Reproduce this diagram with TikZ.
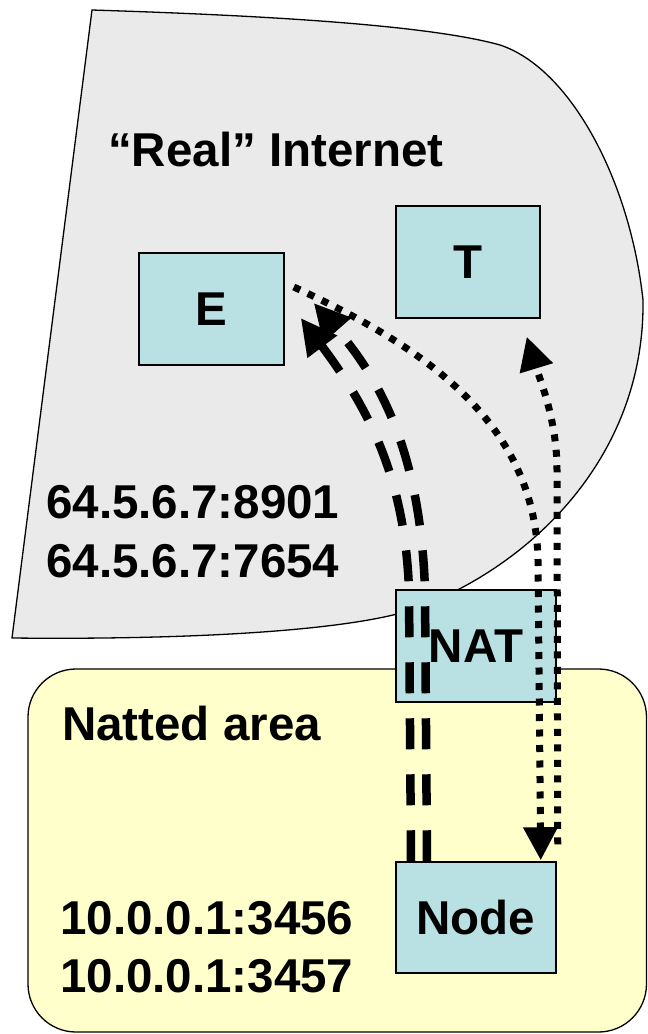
\documentclass[tikz,border=0pt]{standalone}
\usepackage{fontspec}
\setmainfont{Liberation Sans}
\usetikzlibrary{arrows.meta,calc}
\definecolor{grayc}{HTML}{EAEAEA}
\definecolor{yellowc}{HTML}{FFFFCC}
\definecolor{boxc}{HTML}{B9E0E3}
\begin{document}
\begin{tikzpicture}[x=1pt,y=-1pt,
  bigfont/.style={font=\bfseries\fontsize{47.5}{52}\selectfont},
  lbl/.style={bigfont,inner sep=0pt,anchor=base west},
  box/.style={draw=black,line width=1.5pt,fill=boxc,bigfont,inner sep=0pt},
  area/.style={draw=black,line width=1.3pt},
  dashedarrow/.style={line width=8.5pt,dash pattern=on 31pt off 25pt,
    -{Triangle[length=36pt,width=35pt]}},
  dottedarrow/.style={line width=7pt,dash pattern=on 7pt off 8.5pt,
    -{Triangle[length=33pt,width=33pt]}}]
\useasboundingbox (0,0) rectangle (648,1034);
% regions
\draw[area,fill=grayc] (92,10) .. controls (250,15) and (425,24) .. (500,45)
  .. controls (570,68) and (630,180) .. (643,300)
  .. controls (645,450) and (540,560) .. (420,607)
  .. controls (360,630) and (200,640) .. (12,638) -- cycle;
\draw[area,fill=yellowc,rounded corners=48pt] (28,669) rectangle (646.5,1032);
% boxes
\node[box,minimum width=145pt,minimum height=112pt] (E) at (211.5,309) {E};
\node[box,minimum width=144pt,minimum height=112pt] (T) at (468,262) {T};
\node[box,minimum width=160pt,minimum height=112pt] (NAT) at (476,646) {NAT};
\node[box,minimum width=160pt,minimum height=111pt] (Node) at (476,917.5) {Node};
% labels
\node[lbl] (real) at (108,166) {“Real” Internet};
\node[lbl] (pub1) at (46,518) {64.5.6.7:8901};
\node[lbl] (pub2) at (46,577) {64.5.6.7:7654};
\node[lbl] (natted) at (62,740) {Natted area};
\node[lbl] (priv1) at (60,934) {10.0.0.1:3456};
\node[lbl] (priv2) at (60,992) {10.0.0.1:3457};
% connectors
\draw[dashedarrow] ($(Node.north)+(-65,0)$) -- (409,590)
  .. controls (405,480) and (370,410) .. ($(E.east)+(16,9)$);
\draw[dashedarrow] ($(Node.north)+(-49,0)$) -- (425,590)
  .. controls (421,470) and (390,390) .. ($(E.east)+(29,-6)$);
\draw[dottedarrow] ($(E.east)+(9,-22)$) .. controls (420,345) and (535,420) .. (538,560)
  -- ($(Node.north east)+(-16,-1)$);
\draw[dottedarrow] ($(Node.north east)+(1,-17)$) -- (557,470)
  .. controls (557,420) and (540,380) .. ($(T.south east)+(-14,18)$);
\end{tikzpicture}
\end{document}
